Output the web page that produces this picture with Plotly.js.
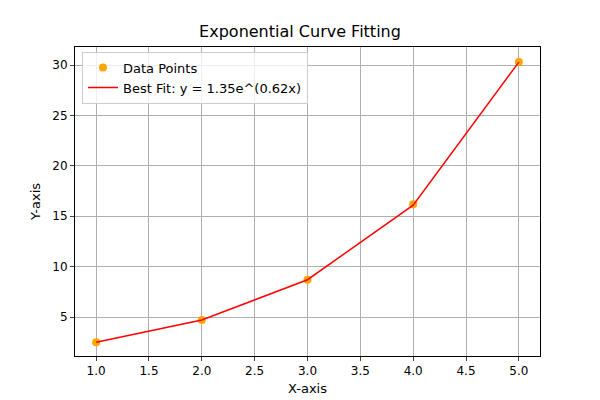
<!DOCTYPE html>
<html>
<head>
<script src="https://cdn.plot.ly/plotly-3.0.1.min.js"></script>
<style>body{margin:0}</style>
</head>
<body>
<div id="chart" style="width:600px;height:400px"></div>
<script>
let xValues = [1, 2, 3, 4, 5];
let yData = [2.5, 4.7, 8.7, 16.2, 30.3];
let yFit = [2.5, 4.7, 8.7, 16.1, 30.3];

let traces = [
    {x: xValues, y: yData, mode: 'markers', name: 'Data Points',
     marker: {color: 'orange', size: 8}},
    {x: xValues, y: yFit, mode: 'lines', name: 'Best Fit: y = 1.35e^(0.62x)',
     line: {color: 'red', width: 1.5}}
];

let axisStyle = {
    showline: true, mirror: true, linecolor: 'black', linewidth: 1,
    ticks: 'outside', ticklen: 4, showgrid: true, gridcolor: '#b0b0b0',
    zeroline: false, tickfont: {size: 12, color: 'black'}
};

let layout = {
    font: {family: 'DejaVu Sans', color: 'black'},
    title: {text: 'Exponential Curve Fitting', font: {size: 16}, x: 0.5, y: 0.935},
    xaxis: Object.assign({}, axisStyle, {
        title: {text: 'X-axis', font: {size: 13}, standoff: 6},
        range: [0.8, 5.2], dtick: 0.5, tickformat: '.1f'
    }),
    yaxis: Object.assign({}, axisStyle, {
        title: {text: 'Y-axis', font: {size: 13}, standoff: 8},
        range: [1.13, 31.8], dtick: 5
    }),
    legend: {x: 0.015, y: 0.985, xanchor: 'left', yanchor: 'top',
             bgcolor: 'rgba(255,255,255,0.8)', bordercolor: '#ccc', borderwidth: 1,
             font: {size: 13}},
    margin: {l: 75, r: 60, t: 47, b: 44},
    plot_bgcolor: 'white', paper_bgcolor: 'white',
    showlegend: true
};

Plotly.newPlot('chart', traces, layout, {displayModeBar: false});
</script>
</body>
</html>
